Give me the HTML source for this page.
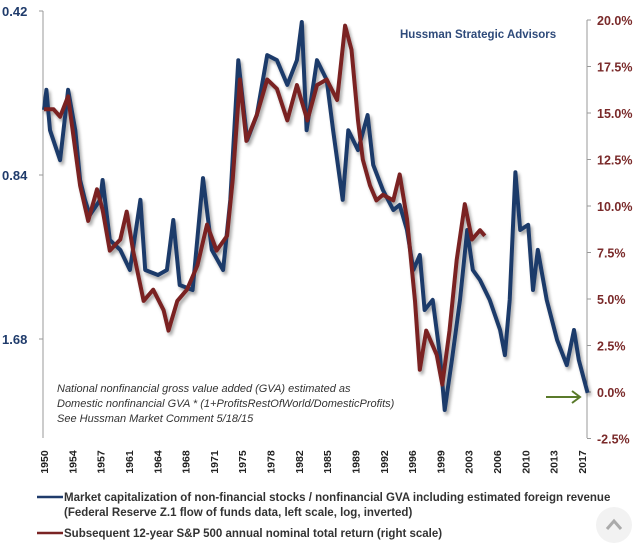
<!DOCTYPE html>
<html><head><meta charset="utf-8">
<style>
body{margin:0;background:#fff;width:640px;height:547px;overflow:hidden;font-family:"Liberation Sans",sans-serif;}
svg{display:block}
</style></head>
<body>
<svg id="chart" width="640" height="547">
<defs>
<filter id="sh" x="-5%" y="-5%" width="110%" height="110%"><feGaussianBlur in="SourceAlpha" stdDeviation="1.5"/><feOffset dx="2" dy="3" result="o"/><feComponentTransfer><feFuncA type="linear" slope="0.35"/></feComponentTransfer><feMerge><feMergeNode/><feMergeNode in="SourceGraphic"/></feMerge></filter>
</defs>
<g id="axes"></g>
<g id="series" filter="url(#sh)"></g>
<text x="400" y="38" font-size="11.5" font-weight="bold" fill="#2e4a7a">Hussman Strategic Advisors</text>
<g font-style="italic" font-size="11" fill="#333">
<text x="57" y="392">National nonfinancial gross value added (GVA) estimated as</text>
<text x="57" y="407">Domestic nonfinancial GVA * (1+ProfitsRestOfWorld/DomesticProfits)</text>
<text x="57" y="422">See Hussman Market Comment 5/18/15</text>
</g>
<g stroke="#5a7a2a" stroke-width="2" fill="none">
<line x1="546" y1="397" x2="580" y2="397"/><polyline points="572,391 580,397 572,403"/>
</g>
<g font-size="11.5" font-weight="bold" fill="#333">
<line x1="37" y1="497" x2="63" y2="497" stroke="#1f3b6b" stroke-width="2.5"/>
<text x="64" y="501">Market capitalization of non-financial stocks / nonfinancial GVA including estimated foreign revenue</text>
<text x="64" y="516">(Federal Reserve Z.1 flow of funds data, left scale, log, inverted)</text>
<line x1="37" y1="533" x2="63" y2="533" stroke="#7a2424" stroke-width="2.5"/>
<text x="64" y="537">Subsequent 12-year S&amp;P 500 annual nominal total return (right scale)</text>
</g>
<g>
<circle cx="614" cy="525" r="18" fill="#f2f2f2"/>
<polyline points="607,529 614,521 621,529" fill="none" stroke="#aaa" stroke-width="3"/>
</g>
</svg>
<script>
const blueYears=[1950,1950.3,1950.75,1952,1953,1953.9,1954.5,1955.1,1955.7,1957,1957.3,1958.2,1959.5,1960.7,1962,1962.6,1964.2,1965.3,1966.1,1966.9,1968.5,1969.8,1970.9,1972.3,1973.2,1974.2,1975.3,1976.5,1977.8,1979,1980.3,1981.5,1982.1,1982.7,1984,1985.2,1986,1987.2,1987.9,1989.1,1990.3,1991,1992.2,1993.5,1994.3,1995.2,1996,1996.8,1997.4,1998.4,1999.3,1999.9,2000.8,2001.8,2002.7,2003.4,2004.3,2005.5,2006.8,2007.4,2008,2008.7,2009.3,2010.3,2010.9,2011.5,2012.6,2013.9,2015.1,2016,2016.6,2017.7];
const blueValues=[0.638,0.586,0.695,0.789,0.586,0.695,0.858,0.933,0.995,0.933,0.858,1.105,1.153,1.255,0.933,1.255,1.282,1.255,1.016,1.337,1.366,0.851,1.153,1.255,0.933,0.517,0.725,0.652,0.506,0.517,0.574,0.517,0.44,0.695,0.517,0.562,0.695,0.933,0.695,0.756,0.652,0.805,0.895,0.974,0.953,1.060,1.255,1.178,1.486,1.424,1.798,2.268,1.836,1.424,1.060,1.255,1.309,1.424,1.617,1.798,1.424,0.830,1.060,1.037,1.366,1.153,1.424,1.687,1.876,1.617,1.836,2.110];
const redYears=[1950,1951.2,1952,1953,1953.9,1954.5,1955.5,1956.6,1957.3,1958.2,1959.5,1960.3,1961.1,1962.4,1963.6,1964.9,1965.5,1966.6,1967.8,1969.1,1970.3,1971.5,1972.8,1973.5,1974.4,1975.2,1976.5,1977.8,1979,1980.3,1981.5,1982.8,1984,1985.2,1986.5,1987.5,1988.3,1989.1,1989.7,1990.6,1991.4,1992.2,1993.5,1994.3,1995.2,1996.2,1996.8,1997.6,1998.9,1999.6,2000.5,2001.4,2002.4,2003.3,2004.3,2004.9];
const redValues=[15.2,15.2,14.8,15.9,13.0,11.1,9.2,10.9,9.8,7.6,8.2,9.7,7.6,4.9,5.5,4.4,3.3,4.9,5.5,6.8,9.0,7.6,8.4,11.4,16.8,13.5,14.9,16.8,16.3,14.6,16.5,14.6,16.5,16.8,15.7,19.7,18.4,14.6,12.5,11.1,10.3,10.6,10.3,11.7,9.3,4.9,1.2,3.3,2.0,0.4,3.3,7.1,10.1,8.2,8.7,8.4];
const leftTicks=[0.42,0.84,1.68];
const leftTickLabels=["0.42","0.84","1.68"];
const rightTicks=[20,17.5,15,12.5,10,7.5,5,2.5,0,-2.5];
const xTickLabels=["1950","1954","1957","1961","1964","1968","1971","1975","1978","1982","1985","1989","1992","1996","1999","2003","2006","2010","2013","2017"];

const NS="http://www.w3.org/2000/svg";
const xs=y=>44+(y-1950)*8.03;
const yL=v=>11+164*Math.log2(v/0.42);
const yR=p=>392-p*18.6;
function mk(tag,attrs,parent){const e=document.createElementNS(NS,tag);for(const k in attrs)e.setAttribute(k,attrs[k]);parent.appendChild(e);return e;}
const ax=document.getElementById('axes');
let e=mk('line',{x1:43,y1:11,x2:43,y2:438,stroke:'#999','stroke-width':1},ax);


e=mk('line',{x1:587,y1:20,x2:587,y2:438,stroke:'#999','stroke-width':1},ax);


leftTicks.forEach((v,i)=>{
  const y=yL(v);
  mk('line',{x1:39,y1:y,x2:43,y2:y,stroke:'#999'},ax);
  const t=mk('text',{x:2,y:y+5,'font-size':13,'font-weight':'bold',fill:'#1f3b6b'},ax);
  t.textContent=leftTickLabels[i];
  
  
});
rightTicks.forEach(p=>{
  const y=yR(p);
  mk('line',{x1:587,y1:y,x2:591,y2:y,stroke:'#999'},ax);
  const t=mk('text',{x:597,y:y+5,'font-size':12.5,'font-weight':'bold',fill:'#7a2a2a'},ax);
  t.textContent=p.toFixed(1)+'%';
  
  
});
xTickLabels.forEach((lab,i)=>{
  const x=44+i*(538/19);
  const t=mk('text',{x:0,y:0,'font-size':10.5,'font-weight':'bold',fill:'#222','text-anchor':'middle',transform:`translate(${x+4},${462}) rotate(-90)`},ax);
  t.textContent=lab;
  
  
});
const sg=document.getElementById('series');
let d=blueYears.map((yr,i)=>(i?'L':'M')+xs(yr).toFixed(1)+','+yL(blueValues[i]).toFixed(1)).join(' ');
e=mk('path',{d:d,fill:'none',stroke:'#1f3b6b','stroke-width':4,'stroke-linejoin':'round'},sg);


d=redYears.map((yr,i)=>(i?'L':'M')+xs(yr).toFixed(1)+','+yR(redValues[i]).toFixed(1)).join(' ');
e=mk('path',{d:d,fill:'none',stroke:'#7a2424','stroke-width':4,'stroke-linejoin':'round'},sg);


</script>
</body></html>
